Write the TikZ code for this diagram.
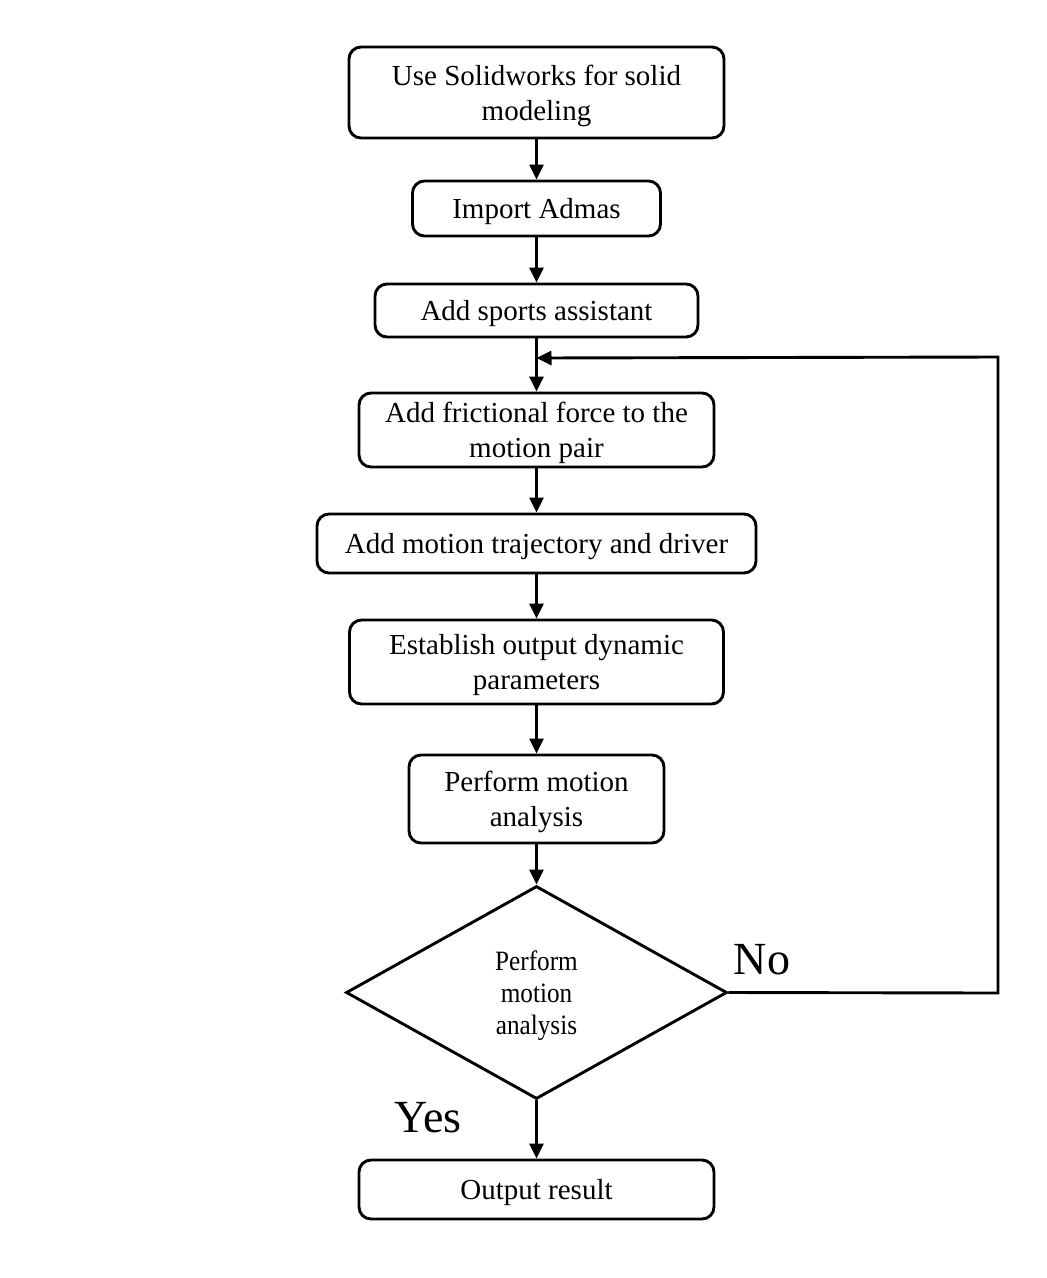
\documentclass[tikz,border=0pt]{standalone}
\usepackage{fontspec}
\setmainfont{Liberation Serif}
\newfontfamily\narrowserif[FakeStretch=0.9]{Liberation Serif}
\usetikzlibrary{shapes.geometric,arrows.meta}
\begin{document}
\begin{tikzpicture}[x=1pt,y=-1pt,
  stepbox/.style={draw,line width=2.9pt,rounded corners=12pt,align=center,
    inner sep=0pt,text depth=-2pt,font=\fontsize{29}{35}\selectfont},
  decbox/.style={draw,line width=2.9pt,diamond,inner sep=0pt,align=center,
    text depth=-2pt,font=\narrowserif\fontsize{28}{32}\selectfont},
  arr/.style={line width=2.9pt,-{Triangle[length=15pt,width=14pt]}},
  lbl/.style={font=\fontsize{46}{50}\selectfont,inner sep=0pt}]
\useasboundingbox (0,0) rectangle (1047,1278);
\node[stepbox,minimum width=375pt,minimum height=91pt] (b1) at (536.5,92.5) {Use Solidworks for solid\\modeling};
\node[stepbox,minimum width=248pt,minimum height=55pt] (b2) at (536.5,208.5) {Import Admas};
\node[stepbox,minimum width=323pt,minimum height=53pt] (b3) at (536.5,310.5) {Add sports assistant};
\node[stepbox,minimum width=355pt,minimum height=74pt] (b4) at (536.5,430) {Add frictional force to the\\motion pair};
\node[stepbox,minimum width=439pt,minimum height=59pt] (b5) at (536.5,543.5) {Add motion trajectory and driver};
\node[stepbox,minimum width=374pt,minimum height=84pt] (b6) at (536.5,662) {Establish output dynamic\\parameters};
\node[stepbox,minimum width=255pt,minimum height=88pt] (b7) at (536.5,799) {Perform motion\\analysis};
\node[decbox,minimum width=381pt,minimum height=213pt] (d) at (536.5,992.5) {Perform\\motion\\analysis};
\node[stepbox,minimum width=355pt,minimum height=59pt] (b9) at (536.5,1189.5) {Output result};
\coordinate (j) at (536.5,358);
\coordinate (c1) at (998,993);
\coordinate (c2) at (998,357);
\draw[arr] (b1) -- (b2);
\draw[arr] (b2) -- (b3);
\draw[arr] (b3) -- (b4);
\draw[arr] (b4) -- (b5);
\draw[arr] (b5) -- (b6);
\draw[arr] (b6) -- (b7);
\draw[arr] (b7) -- (d);
\draw[arr] (d) -- (b9);
\draw[arr,line join=miter] (d.east) -- (c1) -- (c2) -- (j);
\node[lbl] (no) at (762,960) {No};
\node[lbl] (yes) at (428,1118) {Yes};
\end{tikzpicture}
\end{document}
